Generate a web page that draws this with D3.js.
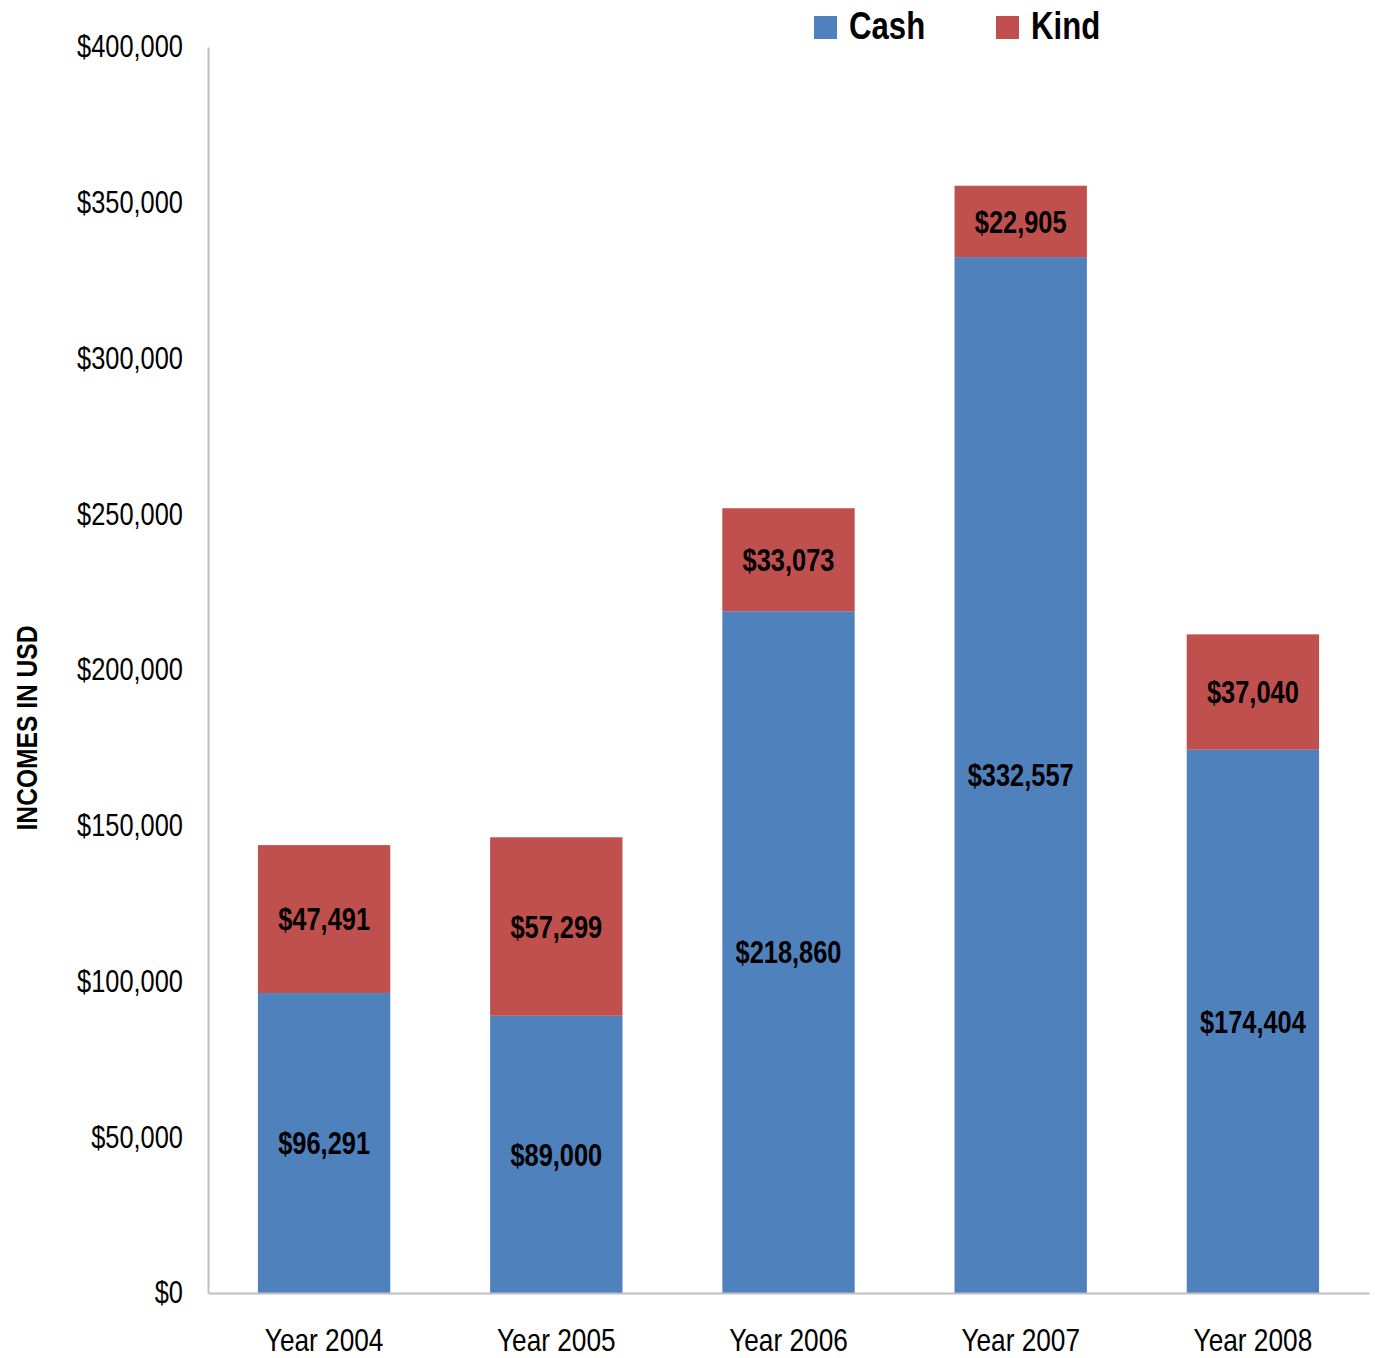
<!DOCTYPE html>
<html>
<head>
<meta charset="utf-8">
<script src="https://cdn.jsdelivr.net/npm/d3@7"></script>
<style>
  html, body { margin: 0; padding: 0; background: #fff; }
  svg text { font-family: "Liberation Sans", Arial, sans-serif; }
</style>
</head>
<body>
<svg id="chart" width="1375" height="1358"></svg>
<script>
const categories = ["Year 2004", "Year 2005", "Year 2006", "Year 2007", "Year 2008"];
const cashValues = [96291, 89000, 218860, 332557, 174404];
const kindValues = [47491, 57299, 33073, 22905, 37040];
const seriesNames = ["Cash", "Kind"];
const seriesColors = ["#4F81BD", "#C0504D"];
const yTicks = [0, 50000, 100000, 150000, 200000, 250000, 300000, 350000, 400000];

const NARROW = 0.82; // emulate a condensed (Arial Narrow-like) face
const FONT = '"Liberation Sans", Arial, sans-serif';

const svg = d3.select("#chart");
const margin = { left: 208, right: 6, top: 47, bottom: 65 };
const W = 1375, H = 1358;
const plotLeft = margin.left, plotRight = W - margin.right;
const plotTop = margin.top, plotBottom = H - margin.bottom;

const x = d3.scaleBand().domain(categories).range([plotLeft, plotRight]).paddingInner(0.43).paddingOuter(0.215);
const y = d3.scaleLinear().domain([0, 400000]).range([plotBottom, plotTop]);

const rows = categories.map((c, i) => ({ cat: c, Cash: cashValues[i], Kind: kindValues[i] }));
const stacked = d3.stack().keys(seriesNames)(rows);

const fmt = v => "$" + d3.format(",")(v);

// bars
stacked.forEach((layer, li) => {
  const g = svg.append("g");
  g.selectAll("rect").data(layer).join("rect")
    .attr("x", d => x(d.data.cat))
    .attr("width", x.bandwidth())
    .attr("y", d => y(d[1]))
    .attr("height", d => y(d[0]) - y(d[1]))
    .attr("fill", seriesColors[li]);
  g.selectAll("text").data(layer).join("text")
    .attr("transform", d => `translate(${x(d.data.cat) + x.bandwidth() / 2},${(y(d[0]) + y(d[1])) / 2}) scale(${NARROW},1)`)
    .attr("text-anchor", "middle")
    .attr("dy", "0.36em")
    .attr("font-size", 31)
    .attr("font-weight", "bold")
    .attr("fill", "#000")
    .text(d => fmt(d[1] - d[0]));
});

// y axis
const yPad = 25;
const yAxis = d3.axisLeft(y).tickValues(yTicks).tickSize(0).tickPadding(yPad)
  .tickFormat(d => fmt(d));
const yg = svg.append("g").attr("transform", `translate(${plotLeft},0)`).call(yAxis);
yg.select(".domain").attr("stroke", "#BFBFBF").attr("stroke-width", 2);
yg.selectAll("text").attr("font-size", 31).attr("fill", "#000")
  .attr("font-family", FONT)
  .attr("x", -yPad / NARROW)
  .attr("transform", `scale(${NARROW},1)`);

// x axis
const xAxis = d3.axisBottom(x).tickSize(0).tickPadding(35);
const xg = svg.append("g").attr("transform", `translate(0,${plotBottom})`).call(xAxis);
xg.select(".domain").attr("stroke", "#BFBFBF").attr("stroke-width", 2);
xg.selectAll("text").attr("font-size", 32).attr("fill", "#000")
  .attr("font-family", FONT)
  .attr("transform", `scale(${NARROW},1)`);

// y title
svg.append("text")
  .attr("transform", `translate(37,728) rotate(-90) scale(${NARROW},1)`)
  .attr("text-anchor", "middle")
  .attr("font-size", 30)
  .attr("font-weight", "bold")
  .text("INCOMES IN USD");

// legend
const legendX = [814, 996];
seriesNames.forEach((n, i) => {
  svg.append("rect").attr("x", legendX[i]).attr("y", 16).attr("width", 23).attr("height", 23)
    .attr("fill", seriesColors[i]);
  svg.append("text")
    .attr("transform", `translate(${legendX[i] + 35},39) scale(${NARROW},1)`)
    .attr("font-size", 38).attr("font-weight", "bold")
    .text(n);
});
</script>
</body>
</html>
